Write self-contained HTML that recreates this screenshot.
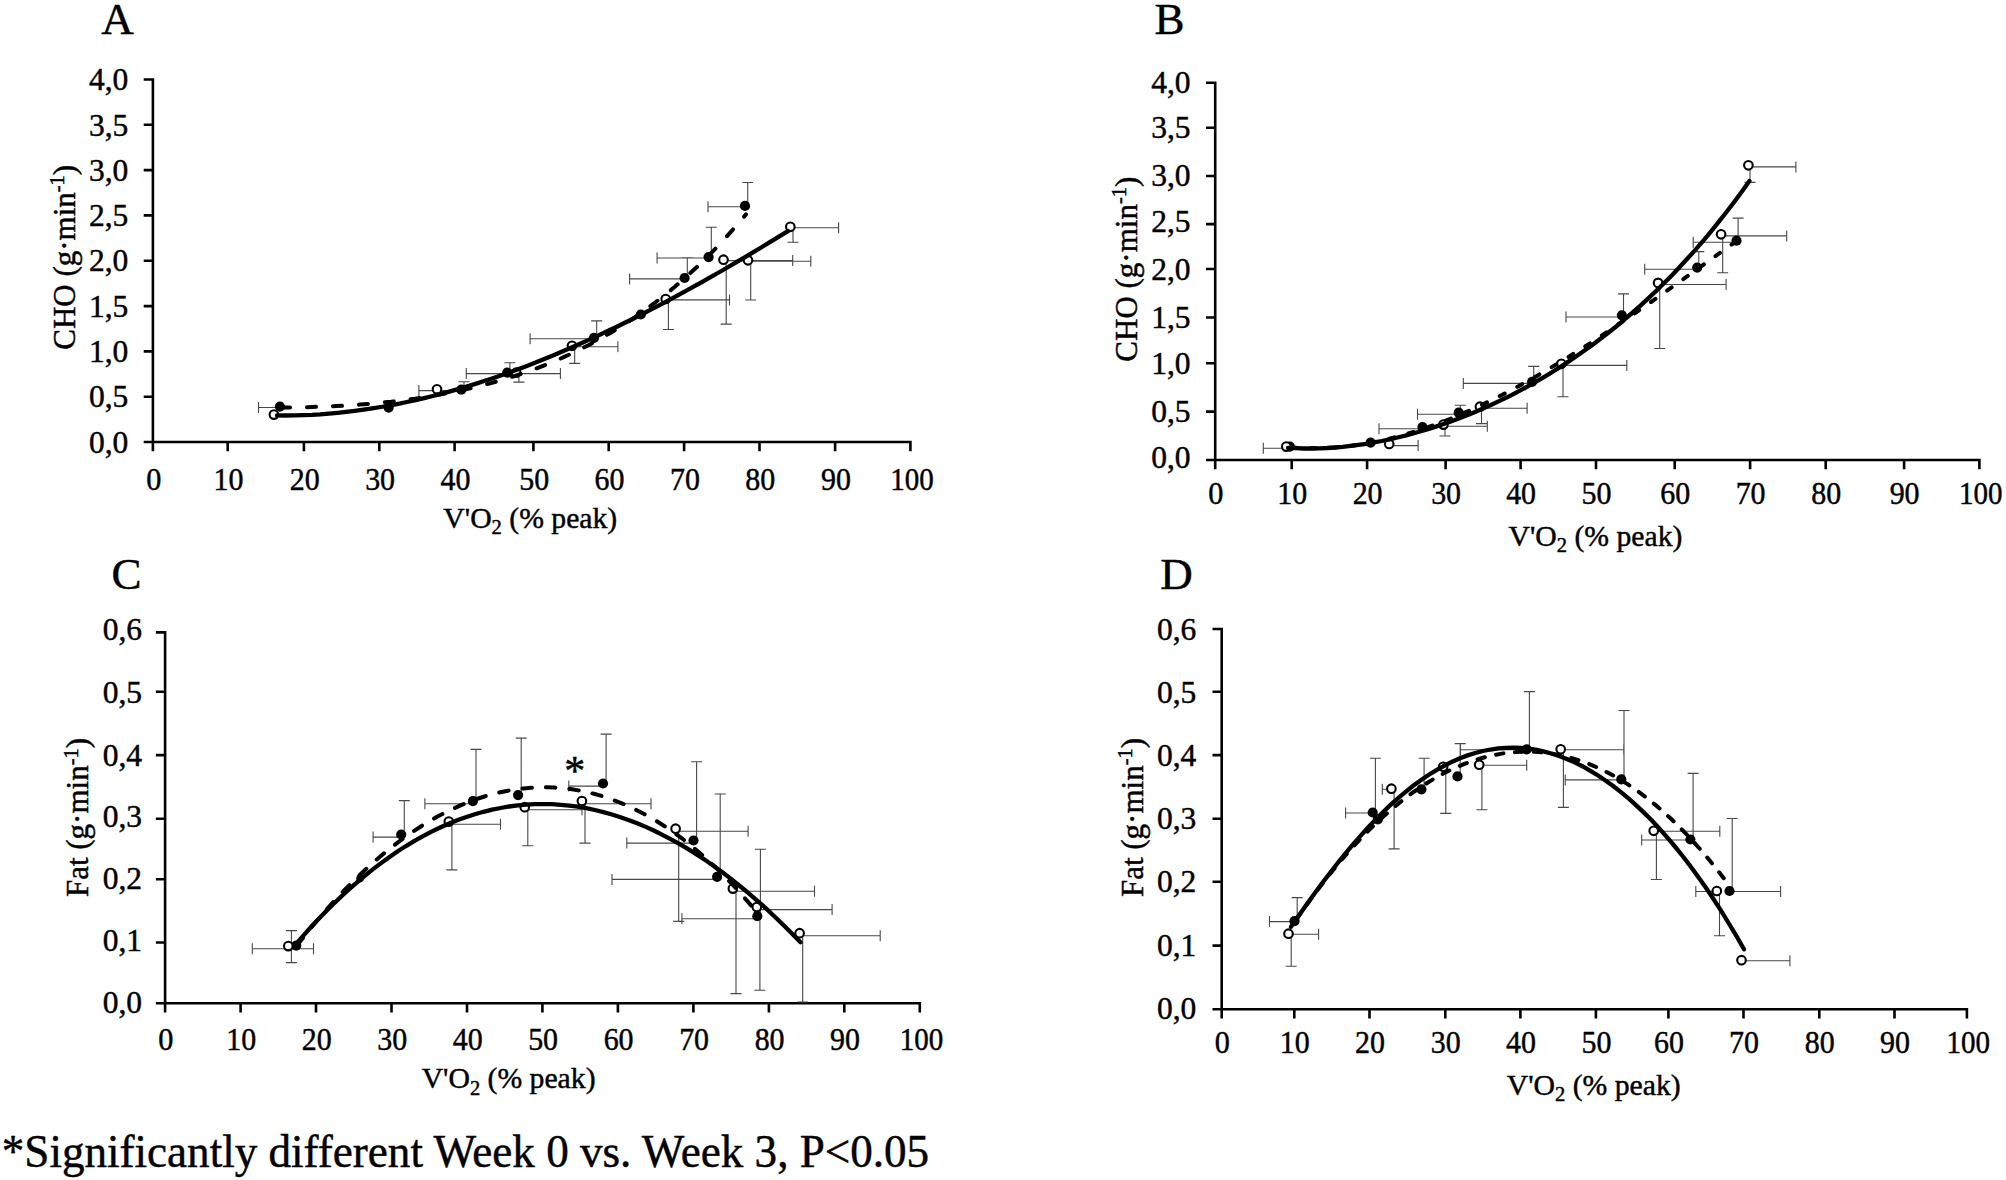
<!DOCTYPE html>
<html lang="en"><head><meta charset="utf-8"><title>Substrate oxidation vs V'O2</title>
<style>html,body{margin:0;padding:0;background:#fff}svg{display:block}text{font-family:'Liberation Serif', 'Times New Roman', serif;fill:#000;stroke:#000;stroke-width:0.45px}</style></head>
<body>
<svg width="2006" height="1180" viewBox="0 0 2006 1180">
<rect width="2006" height="1180" fill="#fff"/>
<g id="panelA">
<path d="M152.9,78.2V451.2M143.7,442.0H911.7M143.7,396.7H152.9M143.7,351.4H152.9M143.7,306.1H152.9M143.7,260.8H152.9M143.7,215.4H152.9M143.7,170.1H152.9M143.7,124.8H152.9M143.7,79.5H152.9M227.7,442.0V451.2M303.9,442.0V451.2M379.3,442.0V451.2M454.6,442.0V451.2M533.4,442.0V451.2M608.7,442.0V451.2M684.1,442.0V451.2M759.5,442.0V451.2M835.1,442.0V451.2M910.4,442.0V451.2" fill="none" stroke="#000" stroke-width="2.6"/>
<g font-size="31.5" text-anchor="end">
<text x="128.3" y="452.7">0,0</text>
<text x="128.3" y="407.4">0,5</text>
<text x="128.3" y="362.1">1,0</text>
<text x="128.3" y="316.8">1,5</text>
<text x="128.3" y="271.4">2,0</text>
<text x="128.3" y="226.1">2,5</text>
<text x="128.3" y="180.8">3,0</text>
<text x="128.3" y="135.5">3,5</text>
<text x="128.3" y="90.2">4,0</text>
</g>
<g font-size="31.2" text-anchor="middle">
<text transform="translate(153.7,489.5) scale(0.97,1)">0</text>
<text transform="translate(228.5,489.5) scale(0.96,1)">10</text>
<text transform="translate(304.7,489.5) scale(0.96,1)">20</text>
<text transform="translate(380.1,489.5) scale(0.96,1)">30</text>
<text transform="translate(455.4,489.5) scale(0.96,1)">40</text>
<text transform="translate(534.2,489.5) scale(0.96,1)">50</text>
<text transform="translate(609.5,489.5) scale(0.96,1)">60</text>
<text transform="translate(684.9,489.5) scale(0.96,1)">70</text>
<text transform="translate(760.3,489.5) scale(0.96,1)">80</text>
<text transform="translate(835.9,489.5) scale(0.96,1)">90</text>
<text transform="translate(912.1,489.5) scale(0.93,1)">100</text>
</g>
<text x="530.3" y="527.5" font-size="29.7" text-anchor="middle">V'O<tspan dy="6.2" font-size="20.5">2</tspan><tspan dy="-6.2"> (% peak)</tspan></text>
<text transform="translate(74.8,257.3) rotate(-90)" font-size="31" text-anchor="middle">CHO (g·min<tspan dy="-10.5" font-size="20.5">-1</tspan><tspan dy="10.5">)</tspan></text>
<text x="101.2" y="34.3" font-size="45">A</text>
<path d="M279.9,407.5H258.5M258.5,402.0V413.0M461.3,390.6H418.9M418.9,385.1V396.1M464.0,389.7V381.7M458.5,381.7H469.5M507.2,373.6H466.3M466.3,368.1V379.1M509.9,372.7V362.8M504.4,362.8H515.4M594.0,338.7H530.1M530.1,333.2V344.2M596.7,337.8V320.9M591.2,320.9H602.2M684.6,278.9H629.6M629.6,273.4V284.4M687.3,278.0V257.7M681.8,257.7H692.8M708.6,258.0H657.1M657.1,252.5V263.5M711.3,257.1V227.2M705.8,227.2H716.8M745.0,206.8H708.0M708.0,201.3V212.3M747.7,205.9V182.5M742.2,182.5H753.2M516.2,373.6H560.4M560.4,368.1V379.1M518.9,372.7V382.1M513.4,382.1H524.4M572.0,346.7H617.9M617.9,341.2V352.2M574.7,345.8V363.4M569.2,363.4H580.2M665.7,299.9H729.5M729.5,294.4V305.4M668.4,299.0V329.5M662.9,329.5H673.9M723.5,260.6H792.7M792.7,255.1V266.1M726.2,259.7V324.1M720.7,324.1H731.7M748.0,261.2H810.8M810.8,255.7V266.7M750.7,260.3V300.0M745.2,300.0H756.2M790.3,227.7H838.6M838.6,222.2V233.2M793.0,226.8V242.2M787.5,242.2H798.5" fill="none" stroke="#484848" stroke-width="1.1"/>
<circle cx="279.9" cy="406.6" r="5.1"/>
<circle cx="388.6" cy="407.6" r="5.1"/>
<circle cx="461.3" cy="389.7" r="5.1"/>
<circle cx="507.2" cy="372.7" r="5.1"/>
<circle cx="594.0" cy="337.8" r="5.1"/>
<circle cx="640.8" cy="314.5" r="5.1"/>
<circle cx="684.6" cy="278.0" r="5.1"/>
<circle cx="708.6" cy="257.1" r="5.1"/>
<circle cx="745.0" cy="205.9" r="5.1"/>
<circle cx="273.9" cy="414.6" r="4.3" fill="#fff" stroke="#000" stroke-width="2.1"/>
<circle cx="437.0" cy="389.3" r="4.3" fill="#fff" stroke="#000" stroke-width="2.1"/>
<circle cx="516.2" cy="372.7" r="4.3" fill="#fff" stroke="#000" stroke-width="2.1"/>
<circle cx="572.0" cy="345.8" r="4.3" fill="#fff" stroke="#000" stroke-width="2.1"/>
<circle cx="665.7" cy="299.0" r="4.3" fill="#fff" stroke="#000" stroke-width="2.1"/>
<circle cx="723.5" cy="259.7" r="4.3" fill="#fff" stroke="#000" stroke-width="2.1"/>
<circle cx="748.0" cy="260.3" r="4.3" fill="#fff" stroke="#000" stroke-width="2.1"/>
<circle cx="790.3" cy="226.8" r="4.3" fill="#fff" stroke="#000" stroke-width="2.1"/>
<path d="M277.0,415.4 L285.7,415.5 L294.3,415.4 L303.0,415.1 L311.6,414.8 L320.3,414.3 L329.0,413.6 L337.6,412.8 L346.3,411.9 L354.9,410.9 L363.6,409.7 L372.3,408.4 L380.9,407.0 L389.6,405.5 L398.3,403.8 L406.9,402.0 L415.6,400.1 L424.2,398.1 L432.9,396.0 L441.6,393.7 L450.2,391.4 L458.9,388.9 L467.5,386.3 L476.2,383.6 L484.9,380.8 L493.5,378.0 L502.2,375.0 L510.8,371.9 L519.5,368.7 L528.2,365.4 L536.8,362.0 L545.5,358.6 L554.2,355.0 L562.8,351.3 L571.5,347.6 L580.1,343.8 L588.8,339.9 L597.5,335.9 L606.1,331.8 L614.8,327.7 L623.4,323.5 L632.1,319.2 L640.8,314.8 L649.4,310.4 L658.1,305.9 L666.7,301.3 L675.4,296.6 L684.1,291.9 L692.7,287.2 L701.4,282.3 L710.1,277.4 L718.7,272.5 L727.4,267.5 L736.0,262.4 L744.7,257.3 L753.4,252.2 L762.0,247.0 L770.7,241.7 L779.3,236.4 L788.0,231.1" fill="none" stroke="#000" stroke-width="4.3" stroke-linecap="round"/>
<path d="M281.0,407.4 L288.9,407.4 L296.8,407.3 L304.6,407.2 L312.5,407.0 L320.4,406.7 L328.3,406.4 L336.2,406.1 L344.1,405.7 L351.9,405.2 L359.8,404.6 L367.7,404.0 L375.6,403.3 L383.5,402.5 L391.3,401.7 L399.2,400.7 L407.1,399.7 L415.0,398.7 L422.9,397.5 L430.7,396.2 L438.6,394.8 L446.5,393.4 L454.4,391.8 L462.3,390.1 L470.2,388.4 L478.0,386.5 L485.9,384.4 L493.8,382.3 L501.7,380.0 L509.6,377.6 L517.4,375.1 L525.3,372.4 L533.2,369.6 L541.1,366.6 L549.0,363.5 L556.8,360.2 L564.7,356.7 L572.6,353.0 L580.5,349.2 L588.4,345.2 L596.3,340.9 L604.1,336.5 L612.0,331.9 L619.9,327.1 L627.8,322.0 L635.7,316.7 L643.5,311.2 L651.4,305.4 L659.3,299.4 L667.2,293.1 L675.1,286.6 L682.9,279.7 L690.8,272.6 L698.7,265.3 L706.6,257.6 L714.5,249.6 L722.4,241.3 L730.2,232.6 L738.1,223.7 L746.0,214.4" fill="none" stroke="#000" stroke-width="4.0" stroke-dasharray="9 17" stroke-linecap="round"/>
</g>
<g id="panelB">
<path d="M1215.2,81.5V469.2M1206.0,460.0H1980.7M1206.0,411.6H1215.2M1206.0,363.2H1215.2M1206.0,317.5H1215.2M1206.0,269.0H1215.2M1206.0,224.1H1215.2M1206.0,176.0H1215.2M1206.0,127.7H1215.2M1206.0,82.8H1215.2M1291.7,460.0V469.2M1367.1,460.0V469.2M1445.6,460.0V469.2M1520.6,460.0V469.2M1596.0,460.0V469.2M1674.7,460.0V469.2M1750.1,460.0V469.2M1825.7,460.0V469.2M1904.1,460.0V469.2M1979.4,460.0V469.2" fill="none" stroke="#000" stroke-width="2.6"/>
<g font-size="31.5" text-anchor="end">
<text x="1190.6" y="468.3">0,0</text>
<text x="1190.6" y="421.8">0,5</text>
<text x="1190.6" y="374.4">1,0</text>
<text x="1190.6" y="327.8">1,5</text>
<text x="1190.6" y="279.6">2,0</text>
<text x="1190.6" y="232.0">2,5</text>
<text x="1190.6" y="186.2">3,0</text>
<text x="1190.6" y="138.2">3,5</text>
<text x="1190.6" y="93.0">4,0</text>
</g>
<g font-size="31.2" text-anchor="middle">
<text transform="translate(1215.7,504.4) scale(0.97,1)">0</text>
<text transform="translate(1292.2,504.4) scale(0.96,1)">10</text>
<text transform="translate(1367.6,504.4) scale(0.96,1)">20</text>
<text transform="translate(1446.1,504.4) scale(0.96,1)">30</text>
<text transform="translate(1521.1,504.4) scale(0.96,1)">40</text>
<text transform="translate(1596.5,504.4) scale(0.96,1)">50</text>
<text transform="translate(1675.2,504.4) scale(0.96,1)">60</text>
<text transform="translate(1750.6,504.4) scale(0.96,1)">70</text>
<text transform="translate(1826.2,504.4) scale(0.96,1)">80</text>
<text transform="translate(1904.6,504.4) scale(0.96,1)">90</text>
<text transform="translate(1980.8,504.4) scale(0.93,1)">100</text>
</g>
<text x="1595.5" y="545.7" font-size="29.7" text-anchor="middle">V'O<tspan dy="6.2" font-size="20.5">2</tspan><tspan dy="-6.2"> (% peak)</tspan></text>
<text transform="translate(1136.6,269.2) rotate(-90)" font-size="31" text-anchor="middle">CHO (g·min<tspan dy="-10.5" font-size="20.5">-1</tspan><tspan dy="10.5">)</tspan></text>
<text x="1154.6" y="33.6" font-size="45">B</text>
<path d="M1289.9,448.2H1263.3M1263.3,442.7V453.7M1422.5,428.8H1379.0M1379.0,423.3V434.3M1458.7,414.3H1417.5M1417.5,408.8V419.8M1460.3,412.7V405.3M1454.8,405.3H1465.8M1532.1,383.4H1463.3M1463.3,377.9V388.9M1533.7,381.8V366.4M1528.2,366.4H1539.2M1621.9,317.0H1566.0M1566.0,311.5V322.5M1623.5,315.4V293.9M1618.0,293.9H1629.0M1697.2,269.2H1644.7M1644.7,263.7V274.7M1698.8,267.6V251.6M1693.3,251.6H1704.3M1736.5,242.3H1693.2M1693.2,236.8V247.8M1738.1,240.7V218.1M1732.6,218.1H1743.6M1389.2,445.6H1418.1M1418.1,440.1V451.1M1443.4,426.2H1487.3M1487.3,420.7V431.7M1445.0,424.6V436.0M1439.5,436.0H1450.5M1479.9,408.3H1527.1M1527.1,402.8V413.8M1481.5,406.7V423.6M1476.0,423.6H1487.0M1561.4,365.4H1626.8M1626.8,359.9V370.9M1563.0,363.8V396.7M1557.5,396.7H1568.5M1658.1,284.5H1726.1M1726.1,279.0V290.0M1659.7,282.9V348.5M1654.2,348.5H1665.2M1721.1,235.9H1786.7M1786.7,230.4V241.4M1722.7,234.3V272.8M1717.2,272.8H1728.2M1748.4,166.9H1795.9M1795.9,161.4V172.4M1750.0,165.3V182.4M1744.5,182.4H1755.5" fill="none" stroke="#484848" stroke-width="1.1"/>
<circle cx="1289.9" cy="446.6" r="5.1"/>
<circle cx="1370.6" cy="442.6" r="5.1"/>
<circle cx="1422.5" cy="427.2" r="5.1"/>
<circle cx="1458.7" cy="412.7" r="5.1"/>
<circle cx="1532.1" cy="381.8" r="5.1"/>
<circle cx="1621.9" cy="315.4" r="5.1"/>
<circle cx="1697.2" cy="267.6" r="5.1"/>
<circle cx="1736.5" cy="240.7" r="5.1"/>
<circle cx="1286.3" cy="446.6" r="4.3" fill="#fff" stroke="#000" stroke-width="2.1"/>
<circle cx="1389.2" cy="444.0" r="4.3" fill="#fff" stroke="#000" stroke-width="2.1"/>
<circle cx="1443.4" cy="424.6" r="4.3" fill="#fff" stroke="#000" stroke-width="2.1"/>
<circle cx="1479.9" cy="406.7" r="4.3" fill="#fff" stroke="#000" stroke-width="2.1"/>
<circle cx="1561.4" cy="363.8" r="4.3" fill="#fff" stroke="#000" stroke-width="2.1"/>
<circle cx="1658.1" cy="282.9" r="4.3" fill="#fff" stroke="#000" stroke-width="2.1"/>
<circle cx="1721.1" cy="234.3" r="4.3" fill="#fff" stroke="#000" stroke-width="2.1"/>
<circle cx="1748.4" cy="165.3" r="4.3" fill="#fff" stroke="#000" stroke-width="2.1"/>
<path d="M1288.0,447.8 L1295.8,448.2 L1303.6,448.5 L1311.5,448.5 L1319.3,448.3 L1327.1,448.0 L1334.9,447.5 L1342.7,446.8 L1350.6,445.9 L1358.4,444.9 L1366.2,443.8 L1374.0,442.4 L1381.8,441.0 L1389.7,439.3 L1397.5,437.5 L1405.3,435.6 L1413.1,433.5 L1420.9,431.3 L1428.8,428.9 L1436.6,426.4 L1444.4,423.7 L1452.2,420.9 L1460.0,418.0 L1467.9,414.9 L1475.7,411.7 L1483.5,408.3 L1491.3,404.8 L1499.1,401.1 L1507.0,397.3 L1514.8,393.3 L1522.6,389.2 L1530.4,384.9 L1538.3,380.4 L1546.1,375.8 L1553.9,371.0 L1561.7,366.1 L1569.5,360.9 L1577.4,355.6 L1585.2,350.1 L1593.0,344.4 L1600.8,338.6 L1608.6,332.5 L1616.5,326.2 L1624.3,319.7 L1632.1,313.0 L1639.9,306.1 L1647.7,298.9 L1655.6,291.5 L1663.4,283.8 L1671.2,275.9 L1679.0,267.8 L1686.8,259.3 L1694.7,250.6 L1702.5,241.6 L1710.3,232.3 L1718.1,222.7 L1725.9,212.7 L1733.8,202.5 L1741.6,191.9 L1749.4,181.0" fill="none" stroke="#000" stroke-width="4.3" stroke-linecap="round"/>
<path d="M1291.0,447.3 L1298.6,447.8 L1306.1,448.1 L1313.7,448.2 L1321.2,448.1 L1328.8,447.8 L1336.3,447.4 L1343.9,446.7 L1351.4,445.8 L1359.0,444.7 L1366.5,443.5 L1374.1,442.1 L1381.6,440.5 L1389.2,438.8 L1396.7,436.8 L1404.3,434.7 L1411.8,432.5 L1419.4,430.1 L1426.9,427.6 L1434.5,424.9 L1442.0,422.0 L1449.6,419.1 L1457.1,416.0 L1464.7,412.7 L1472.2,409.4 L1479.8,405.9 L1487.3,402.2 L1494.9,398.5 L1502.4,394.7 L1510.0,390.7 L1517.5,386.7 L1525.1,382.5 L1532.6,378.3 L1540.2,373.9 L1547.7,369.5 L1555.3,365.0 L1562.8,360.4 L1570.4,355.7 L1577.9,351.0 L1585.5,346.2 L1593.0,341.3 L1600.6,336.3 L1608.1,331.3 L1615.7,326.3 L1623.2,321.1 L1630.8,316.0 L1638.3,310.8 L1645.9,305.5 L1653.4,300.3 L1661.0,295.0 L1668.5,289.6 L1676.1,284.3 L1683.6,278.9 L1691.2,273.5 L1698.7,268.1 L1706.3,262.7 L1713.8,257.2 L1721.4,251.8 L1728.9,246.4 L1736.5,241.0" fill="none" stroke="#000" stroke-width="4.0" stroke-dasharray="5.5 14.3" stroke-linecap="round"/>
</g>
<g id="panelC">
<path d="M165.1,631.1V1012.4M155.9,1003.2H921.1M155.9,942.5H165.1M155.9,879.2H165.1M155.9,818.7H165.1M155.9,755.1H165.1M155.9,691.7H165.1M155.9,632.4H165.1M240.6,1003.2V1012.4M316.0,1003.2V1012.4M391.5,1003.2V1012.4M467.0,1003.2V1012.4M542.4,1003.2V1012.4M617.9,1003.2V1012.4M693.4,1003.2V1012.4M768.9,1003.2V1012.4M844.3,1003.2V1012.4M919.8,1003.2V1012.4" fill="none" stroke="#000" stroke-width="2.6"/>
<g font-size="31.5" text-anchor="end">
<text x="142.0" y="1013.0">0,0</text>
<text x="142.0" y="950.5">0,1</text>
<text x="142.0" y="889.3">0,2</text>
<text x="142.0" y="826.5">0,3</text>
<text x="142.0" y="765.8">0,4</text>
<text x="142.0" y="702.7">0,5</text>
<text x="142.0" y="639.9">0,6</text>
</g>
<g font-size="31.2" text-anchor="middle">
<text transform="translate(165.8,1050.0) scale(0.97,1)">0</text>
<text transform="translate(241.3,1050.0) scale(0.96,1)">10</text>
<text transform="translate(316.7,1050.0) scale(0.96,1)">20</text>
<text transform="translate(392.2,1050.0) scale(0.96,1)">30</text>
<text transform="translate(467.7,1050.0) scale(0.96,1)">40</text>
<text transform="translate(543.1,1050.0) scale(0.96,1)">50</text>
<text transform="translate(618.6,1050.0) scale(0.96,1)">60</text>
<text transform="translate(694.1,1050.0) scale(0.96,1)">70</text>
<text transform="translate(769.6,1050.0) scale(0.96,1)">80</text>
<text transform="translate(845.0,1050.0) scale(0.96,1)">90</text>
<text transform="translate(921.4,1050.0) scale(0.93,1)">100</text>
</g>
<text x="508.6" y="1088.3" font-size="29.7" text-anchor="middle">V'O<tspan dy="6.2" font-size="20.5">2</tspan><tspan dy="-6.2"> (% peak)</tspan></text>
<text transform="translate(88.0,817.5) rotate(-90)" font-size="31" text-anchor="middle">Fat (g·min<tspan dy="-10.5" font-size="20.5">-1</tspan><tspan dy="10.5">)</tspan></text>
<text x="111.5" y="589.0" font-size="45">C</text>
<path d="M401.2,837.1H373.1M373.1,831.6V842.6M404.3,834.5V800.6M398.8,800.6H409.8M472.9,803.7H424.9M424.9,798.2V809.2M476.0,801.1V749.4M470.5,749.4H481.5M521.2,795.1V738.1M515.7,738.1H526.7M603.0,786.1H568.8M568.8,780.6V791.6M606.1,783.5V734.1M600.6,734.1H611.6M693.5,843.1H626.8M626.8,837.6V848.6M696.6,840.5V761.7M691.1,761.7H702.1M717.1,879.4H612.0M612.0,873.9V884.9M720.2,876.8V794.0M714.7,794.0H725.7M757.3,918.8H681.9M681.9,913.3V924.3M760.4,916.2V849.2M754.9,849.2H765.9M288.3,948.7H252.3M252.3,943.2V954.2M288.3,948.7H313.5M313.5,943.2V954.2M291.4,946.1V930.6M285.9,930.6H296.9M291.4,946.1V962.6M285.9,962.6H296.9M448.8,824.2H500.5M500.5,818.7V829.7M451.9,821.6V869.9M446.4,869.9H457.4M524.7,809.8H582.0M582.0,804.3V815.3M527.8,807.2V845.8M522.3,845.8H533.3M581.9,803.7H651.0M651.0,798.2V809.2M585.0,801.1V843.1M579.5,843.1H590.5M675.6,831.3H748.1M748.1,825.8V836.8M678.7,828.7V921.4M673.2,921.4H684.2M732.9,891.2H814.5M814.5,885.7V896.7M736.0,888.6V993.6M730.5,993.6H741.5M756.8,909.6H832.1M832.1,904.1V915.1M759.9,907.0V990.2M754.4,990.2H765.4M799.6,935.8H880.2M880.2,930.3V941.3M802.7,933.2V1002.0M797.2,1002.0H808.2" fill="none" stroke="#484848" stroke-width="1.1"/>
<circle cx="296.2" cy="945.6" r="5.1"/>
<circle cx="401.2" cy="834.5" r="5.1"/>
<circle cx="472.9" cy="801.1" r="5.1"/>
<circle cx="518.1" cy="795.1" r="5.1"/>
<circle cx="603.0" cy="783.5" r="5.1"/>
<circle cx="693.5" cy="840.5" r="5.1"/>
<circle cx="717.1" cy="876.8" r="5.1"/>
<circle cx="757.3" cy="916.2" r="5.1"/>
<circle cx="360.0" cy="878.6" r="3.8"/>
<circle cx="288.3" cy="946.1" r="4.3" fill="#fff" stroke="#000" stroke-width="2.1"/>
<circle cx="448.8" cy="821.6" r="4.3" fill="#fff" stroke="#000" stroke-width="2.1"/>
<circle cx="524.7" cy="807.2" r="4.3" fill="#fff" stroke="#000" stroke-width="2.1"/>
<circle cx="581.9" cy="801.1" r="4.3" fill="#fff" stroke="#000" stroke-width="2.1"/>
<circle cx="675.6" cy="828.7" r="4.3" fill="#fff" stroke="#000" stroke-width="2.1"/>
<circle cx="732.9" cy="888.6" r="4.3" fill="#fff" stroke="#000" stroke-width="2.1"/>
<circle cx="756.8" cy="907.0" r="4.3" fill="#fff" stroke="#000" stroke-width="2.1"/>
<circle cx="799.6" cy="933.2" r="4.3" fill="#fff" stroke="#000" stroke-width="2.1"/>
<path d="M295.0,945.1 L303.6,935.3 L312.1,925.8 L320.7,916.8 L329.3,908.1 L337.8,899.7 L346.4,891.7 L355.0,884.1 L363.5,876.9 L372.1,869.9 L380.7,863.4 L389.2,857.2 L397.8,851.3 L406.4,845.8 L414.9,840.7 L423.5,835.9 L432.1,831.4 L440.7,827.3 L449.2,823.5 L457.8,820.1 L466.4,817.0 L474.9,814.2 L483.5,811.8 L492.1,809.7 L500.6,808.0 L509.2,806.5 L517.8,805.4 L526.3,804.6 L534.9,804.2 L543.5,804.1 L552.0,804.2 L560.6,804.8 L569.2,805.6 L577.7,806.7 L586.3,808.2 L594.9,810.0 L603.4,812.1 L612.0,814.5 L620.6,817.2 L629.1,820.2 L637.7,823.5 L646.3,827.1 L654.8,831.0 L663.4,835.3 L672.0,839.8 L680.6,844.6 L689.1,849.7 L697.7,855.1 L706.3,860.8 L714.8,866.8 L723.4,873.1 L732.0,879.6 L740.5,886.5 L749.1,893.6 L757.7,901.0 L766.2,908.7 L774.8,916.7 L783.4,925.0 L791.9,933.5 L800.5,942.3" fill="none" stroke="#000" stroke-width="4.3" stroke-linecap="round"/>
<path d="M297.0,945.5 L304.8,935.5 L312.6,925.9 L320.4,916.6 L328.3,907.6 L336.1,899.0 L343.9,890.7 L351.7,882.8 L359.5,875.2 L367.3,867.9 L375.1,860.9 L382.9,854.2 L390.8,847.9 L398.6,841.9 L406.4,836.2 L414.2,830.8 L422.0,825.7 L429.8,821.0 L437.6,816.5 L445.5,812.4 L453.3,808.6 L461.1,805.1 L468.9,801.9 L476.7,799.0 L484.5,796.5 L492.3,794.2 L500.2,792.3 L508.0,790.7 L515.8,789.4 L523.6,788.4 L531.4,787.7 L539.2,787.4 L547.0,787.3 L554.8,787.6 L562.7,788.2 L570.5,789.1 L578.3,790.4 L586.1,791.9 L593.9,793.8 L601.7,796.0 L609.5,798.6 L617.4,801.5 L625.2,804.7 L633.0,808.3 L640.8,812.2 L648.6,816.4 L656.4,821.0 L664.2,826.0 L672.1,831.3 L679.9,836.9 L687.7,842.9 L695.5,849.3 L703.3,856.0 L711.1,863.1 L718.9,870.6 L726.7,878.5 L734.6,886.7 L742.4,895.4 L750.2,904.4 L758.0,913.8" fill="none" stroke="#000" stroke-width="4.0" stroke-dasharray="9.5 14" stroke-linecap="round"/>
<text x="574.7" y="785.0" font-size="42" text-anchor="middle">*</text>
</g>
<g id="panelD">
<path d="M1221.7,627.7V1018.5M1212.5,1009.3H1968.2M1212.5,945.6H1221.7M1212.5,881.8H1221.7M1212.5,818.7H1221.7M1212.5,755.1H1221.7M1212.5,691.7H1221.7M1212.5,629.0H1221.7M1294.3,1009.3V1018.5M1369.5,1009.3V1018.5M1445.3,1009.3V1018.5M1520.4,1009.3V1018.5M1595.9,1009.3V1018.5M1668.4,1009.3V1018.5M1743.5,1009.3V1018.5M1819.3,1009.3V1018.5M1894.5,1009.3V1018.5M1966.9,1009.3V1018.5" fill="none" stroke="#000" stroke-width="2.6"/>
<g font-size="31.5" text-anchor="end">
<text x="1196.3" y="1018.6">0,0</text>
<text x="1196.3" y="955.5">0,1</text>
<text x="1196.3" y="892.1">0,2</text>
<text x="1196.3" y="829.2">0,3</text>
<text x="1196.3" y="765.8">0,4</text>
<text x="1196.3" y="702.7">0,5</text>
<text x="1196.3" y="639.9">0,6</text>
</g>
<g font-size="31.2" text-anchor="middle">
<text transform="translate(1222.2,1053.2) scale(0.97,1)">0</text>
<text transform="translate(1294.8,1053.2) scale(0.96,1)">10</text>
<text transform="translate(1370.0,1053.2) scale(0.96,1)">20</text>
<text transform="translate(1445.8,1053.2) scale(0.96,1)">30</text>
<text transform="translate(1520.9,1053.2) scale(0.96,1)">40</text>
<text transform="translate(1596.4,1053.2) scale(0.96,1)">50</text>
<text transform="translate(1668.9,1053.2) scale(0.96,1)">60</text>
<text transform="translate(1744.0,1053.2) scale(0.96,1)">70</text>
<text transform="translate(1819.8,1053.2) scale(0.96,1)">80</text>
<text transform="translate(1895.0,1053.2) scale(0.96,1)">90</text>
<text transform="translate(1968.3,1053.2) scale(0.93,1)">100</text>
</g>
<text x="1593.7" y="1095.1" font-size="29.7" text-anchor="middle">V'O<tspan dy="6.2" font-size="20.5">2</tspan><tspan dy="-6.2"> (% peak)</tspan></text>
<text transform="translate(1142.6,817.5) rotate(-90)" font-size="31" text-anchor="middle">Fat (g·min<tspan dy="-10.5" font-size="20.5">-1</tspan><tspan dy="10.5">)</tspan></text>
<text x="1160.2" y="588.5" font-size="45">D</text>
<path d="M1294.5,921.6H1269.5M1269.5,916.1V927.1M1297.2,921.1V897.6M1291.7,897.6H1302.7M1372.7,813.0H1345.6M1345.6,807.5V818.5M1375.4,812.5V758.3M1369.9,758.3H1380.9M1424.1,789.3V758.3M1418.6,758.3H1429.6M1460.2,776.4V743.6M1454.7,743.6H1465.7M1526.7,749.8H1460.5M1460.5,744.3V755.3M1529.4,749.3V691.6M1523.9,691.6H1534.9M1621.3,779.9H1565.2M1565.2,774.4V785.4M1624.0,779.4V710.5M1618.5,710.5H1629.5M1690.4,840.0H1641.7M1641.7,834.5V845.5M1693.1,839.5V773.4M1687.6,773.4H1698.6M1729.5,891.5H1780.6M1780.6,886.0V897.0M1732.2,891.0V818.5M1726.7,818.5H1737.7M1288.5,934.2H1318.6M1318.6,928.7V939.7M1291.2,933.7V966.2M1285.7,966.2H1296.7M1391.4,789.2H1382.3M1382.3,783.7V794.7M1394.1,788.7V848.9M1388.6,848.9H1399.6M1445.8,766.8V813.4M1440.3,813.4H1451.3M1479.2,765.2H1526.7M1526.7,759.7V770.7M1481.9,764.7V809.8M1476.4,809.8H1487.4M1560.7,749.8H1623.8M1623.8,744.3V755.3M1563.4,749.3V807.4M1557.9,807.4H1568.9M1653.7,831.3H1719.8M1719.8,825.8V836.8M1656.4,830.8V879.5M1650.9,879.5H1661.9M1716.8,891.5H1695.8M1695.8,886.0V897.0M1719.5,891.0V935.8M1714.0,935.8H1725.0M1741.5,960.7H1789.9M1789.9,955.2V966.2" fill="none" stroke="#484848" stroke-width="1.1"/>
<circle cx="1294.5" cy="921.1" r="5.1"/>
<circle cx="1372.7" cy="812.5" r="5.1"/>
<circle cx="1377.8" cy="819.4" r="5.1"/>
<circle cx="1421.4" cy="789.3" r="5.1"/>
<circle cx="1457.5" cy="776.4" r="5.1"/>
<circle cx="1526.7" cy="749.3" r="5.1"/>
<circle cx="1621.3" cy="779.4" r="5.1"/>
<circle cx="1690.4" cy="839.5" r="5.1"/>
<circle cx="1729.5" cy="891.0" r="5.1"/>
<circle cx="1288.5" cy="933.7" r="4.3" fill="#fff" stroke="#000" stroke-width="2.1"/>
<circle cx="1391.4" cy="788.7" r="4.3" fill="#fff" stroke="#000" stroke-width="2.1"/>
<circle cx="1443.1" cy="766.8" r="4.3" fill="#fff" stroke="#000" stroke-width="2.1"/>
<circle cx="1479.2" cy="764.7" r="4.3" fill="#fff" stroke="#000" stroke-width="2.1"/>
<circle cx="1560.7" cy="749.3" r="4.3" fill="#fff" stroke="#000" stroke-width="2.1"/>
<circle cx="1653.7" cy="830.8" r="4.3" fill="#fff" stroke="#000" stroke-width="2.1"/>
<circle cx="1716.8" cy="891.0" r="4.3" fill="#fff" stroke="#000" stroke-width="2.1"/>
<circle cx="1741.5" cy="960.2" r="4.3" fill="#fff" stroke="#000" stroke-width="2.1"/>
<path d="M1291.0,926.8 L1298.7,915.7 L1306.4,904.8 L1314.0,894.2 L1321.7,883.8 L1329.4,873.7 L1337.1,863.8 L1344.7,854.3 L1352.4,845.1 L1360.1,836.3 L1367.8,827.8 L1375.5,819.7 L1383.1,812.0 L1390.8,804.7 L1398.5,797.8 L1406.2,791.3 L1413.8,785.3 L1421.5,779.7 L1429.2,774.5 L1436.9,769.8 L1444.6,765.5 L1452.2,761.7 L1459.9,758.3 L1467.6,755.4 L1475.3,753.0 L1482.9,751.0 L1490.6,749.5 L1498.3,748.4 L1506.0,747.8 L1513.7,747.7 L1521.3,748.0 L1529.0,748.7 L1536.7,749.9 L1544.4,751.6 L1552.1,753.7 L1559.7,756.2 L1567.4,759.2 L1575.1,762.6 L1582.8,766.5 L1590.4,770.8 L1598.1,775.5 L1605.8,780.7 L1613.5,786.2 L1621.2,792.3 L1628.8,798.7 L1636.5,805.6 L1644.2,812.9 L1651.9,820.6 L1659.5,828.8 L1667.2,837.4 L1674.9,846.5 L1682.6,856.0 L1690.3,866.0 L1697.9,876.4 L1705.6,887.3 L1713.3,898.7 L1721.0,910.6 L1728.6,923.0 L1736.3,935.8 L1744.0,949.3" fill="none" stroke="#000" stroke-width="4.3" stroke-linecap="round"/>
<path d="M1296.0,920.1 L1303.3,909.5 L1310.7,899.2 L1318.0,889.3 L1325.4,879.7 L1332.7,870.5 L1340.1,861.6 L1347.4,853.1 L1354.8,844.9 L1362.1,837.1 L1369.5,829.6 L1376.8,822.5 L1384.2,815.7 L1391.5,809.3 L1398.9,803.2 L1406.2,797.4 L1413.6,792.0 L1420.9,787.0 L1428.3,782.2 L1435.6,777.8 L1442.9,773.8 L1450.3,770.1 L1457.6,766.7 L1465.0,763.7 L1472.3,761.0 L1479.7,758.7 L1487.0,756.6 L1494.4,755.0 L1501.7,753.6 L1509.1,752.6 L1516.4,752.0 L1523.8,751.7 L1531.1,751.7 L1538.5,752.1 L1545.8,752.8 L1553.2,753.9 L1560.5,755.3 L1567.9,757.0 L1575.2,759.1 L1582.6,761.5 L1589.9,764.3 L1597.2,767.5 L1604.6,771.0 L1611.9,774.8 L1619.3,779.0 L1626.6,783.6 L1634.0,788.5 L1641.3,793.8 L1648.7,799.4 L1656.0,805.4 L1663.4,811.8 L1670.7,818.5 L1678.1,825.6 L1685.4,833.1 L1692.8,841.0 L1700.1,849.2 L1707.5,857.8 L1714.8,866.8 L1722.2,876.2 L1729.5,886.0" fill="none" stroke="#000" stroke-width="4.0" stroke-dasharray="7.5 11.5" stroke-linecap="round"/>
</g>
<text x="1.8" y="1167.4" font-size="46" textLength="927.3" lengthAdjust="spacingAndGlyphs">*Significantly different Week 0 vs. Week 3, P&lt;0.05</text>
</svg></body></html>
